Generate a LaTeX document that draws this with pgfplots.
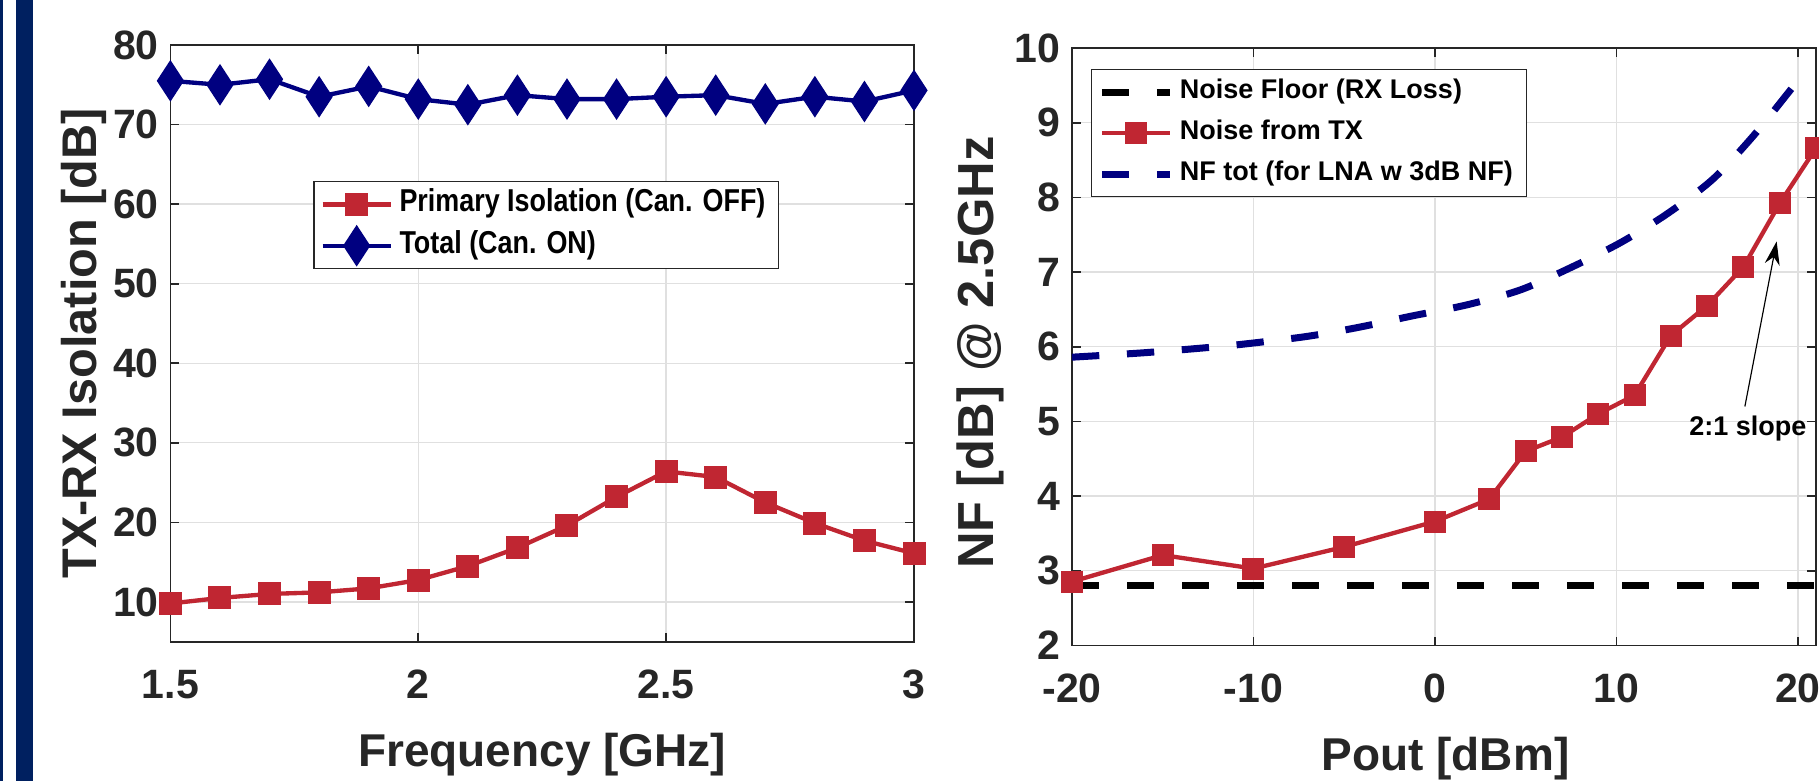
\documentclass[border=0pt]{standalone}
\usepackage{fontspec}
\setmainfont{Liberation Sans}
\newfontfamily\condfont{Liberation Sans}[FakeStretch=0.85]
\usepackage{pgfplots}
\pgfplotsset{compat=1.18}
\usetikzlibrary{arrows.meta}

\definecolor{matred}{RGB}{192,38,50}
\definecolor{matnavy}{RGB}{0,0,128}
\definecolor{slidebar}{RGB}{0,32,96}
\definecolor{axgray}{RGB}{38,38,38}

\pgfplotsset{
  matlab/.style={
    scale only axis,
    anchor=south west,
    axis line style={axgray, line width=0.5pt},
    tick style={axgray, line width=0.5pt},
    major tick length=2.6pt,
    tick align=inside,
    grid=major,
    major grid style={black!12, line width=0.4pt},
    /pgf/number format/assume math mode=true,
    tick label style={font=\bfseries\fontsize{12.3}{14}\selectfont, text=axgray},
    xticklabel style={yshift=-5pt},
    label style={font=\bfseries\fontsize{13.8}{16}\selectfont, text=axgray},
    legend cell align=left,
    legend style={draw=axgray, line width=0.4pt, inner xsep=2pt, inner ysep=0.6pt,
      font=\bfseries\fontsize{8.1}{9.5}\selectfont,
      nodes={inner xsep=2pt, inner ysep=2.2pt, text height=6pt, text depth=1.9pt}},
    legend image code/.code={\draw[mark repeat=2,mark phase=2,#1] plot coordinates {(0pt,0pt) (10.2pt,0pt) (20.4pt,0pt)};},
    clip=false,
  },
}

\begin{document}
\begin{tikzpicture}
\path[use as bounding box] (0,0) rectangle (545.7pt,234.3pt);
\fill[slidebar] (0,0) rectangle (1pt,234.3pt);
\fill[slidebar] (4.8pt,0) rectangle (9.8pt,234.3pt);

% left: isolation vs frequency
\begin{axis}[matlab,
  at={(51.12pt,41.79pt)}, width=223.08pt, height=179pt,
  xmin=1.5, xmax=3, ymin=5, ymax=80,
  xtick={1.5,2,2.5,3}, ytick={10,20,...,80},
  xlabel={Frequency [GHz]}, ylabel={TX-RX Isolation [dB]},
  xlabel style={at={(axis description cs:0.5,-0.21)}, anchor=base},
  ylabel style={at={(axis description cs:-0.099,0.5)}, anchor=base, font=\bfseries\fontsize{14.6}{17}\selectfont},
  legend style={at={(0.192,0.772)}, anchor=north west,
    font=\condfont\bfseries\fontsize{9.5}{11}\selectfont,
    nodes={text height=6.4pt, text depth=1.9pt, inner ysep=2.05pt}},
]
\addplot[matred, line width=1.3pt, mark=square*, mark size=3.25pt, mark options={solid, line width=0.4pt}] coordinates {
(1.5,9.8)(1.6,10.5)(1.7,11.0)(1.8,11.2)(1.9,11.7)(2.0,12.75)(2.1,14.5)(2.2,16.8)
(2.3,19.6)(2.4,23.2)(2.5,26.4)(2.6,25.7)(2.7,22.5)(2.8,19.9)(2.9,17.7)(3.0,16.1)};
\addlegendentry{Primary Isolation (Can. OFF)}
\addplot[matnavy, line width=1.3pt, mark=diamond*, mark size=5.9pt, mark options={solid, xscale=0.87, line width=0.4pt}] coordinates {
(1.5,75.5)(1.6,75.0)(1.7,75.7)(1.8,73.5)(1.9,74.8)(2.0,73.2)(2.1,72.5)(2.2,73.7)
(2.3,73.2)(2.4,73.2)(2.5,73.5)(2.6,73.7)(2.7,72.6)(2.8,73.5)(2.9,72.9)(3.0,74.3)};
\addlegendentry{Total (Can. ON)}
\end{axis}

% right: NF vs output power
\begin{axis}[matlab,
  at={(321.6pt,40.65pt)}, width=223.2pt, height=179.25pt,
  xmin=-20, xmax=21, ymin=2, ymax=10,
  xtick={-20,-10,0,10,20}, ytick={2,3,...,10},
  xlabel={Pout [dBm]}, ylabel={NF [dB] @ 2.5GHz},
  xlabel style={at={(axis description cs:0.502,-0.2084)}, anchor=base},
  ylabel style={at={(axis description cs:-0.105,0.49)}, anchor=base, font=\bfseries\fontsize{15.2}{18}\selectfont},
  legend style={at={(0.0255,0.965)}, anchor=north west},
]
\addplot[black, line width=2.1pt, dash pattern=on 8.2pt off 8.3pt] coordinates {(-20,2.80)(21,2.80)};
\addlegendentry{Noise Floor (RX Loss)}
\addplot[matred, line width=1.3pt, mark=square*, mark size=3.1pt, mark options={solid, line width=0.4pt}] coordinates {
(-20,2.855)(-15,3.21)(-10,3.03)(-5,3.32)(0,3.66)(3,3.96)(5,4.60)(7,4.79)
(9,5.10)(11,5.35)(13,6.15)(15,6.55)(17,7.07)(19,7.92)(21,8.66)};
\addlegendentry{Noise from TX}
\addplot[matnavy, line width=2.1pt, dash pattern=on 8.2pt off 8.3pt, smooth] coordinates {
(-20,5.86)(-16,5.92)(-12,6.00)(-10,6.05)(-7,6.14)(-4.2,6.26)(-1.3,6.41)(1.75,6.56)
(4.7,6.76)(7.4,7.05)(10.2,7.39)(12.8,7.78)(15.3,8.24)(17.5,8.81)(19.5,9.41)(20.3,9.66)};
\addlegendentry{NF tot (for LNA w 3dB NF)}
\draw[-{Stealth[length=7pt,width=4.5pt]}, line width=0.35pt] (axis cs:17.08,5.20) -- (axis cs:18.83,7.41);
\node[font=\bfseries\fontsize{8.1}{9.5}\selectfont] at (axis cs:17.25,4.91) {2:1 slope};
\end{axis}
\end{tikzpicture}
\end{document}
